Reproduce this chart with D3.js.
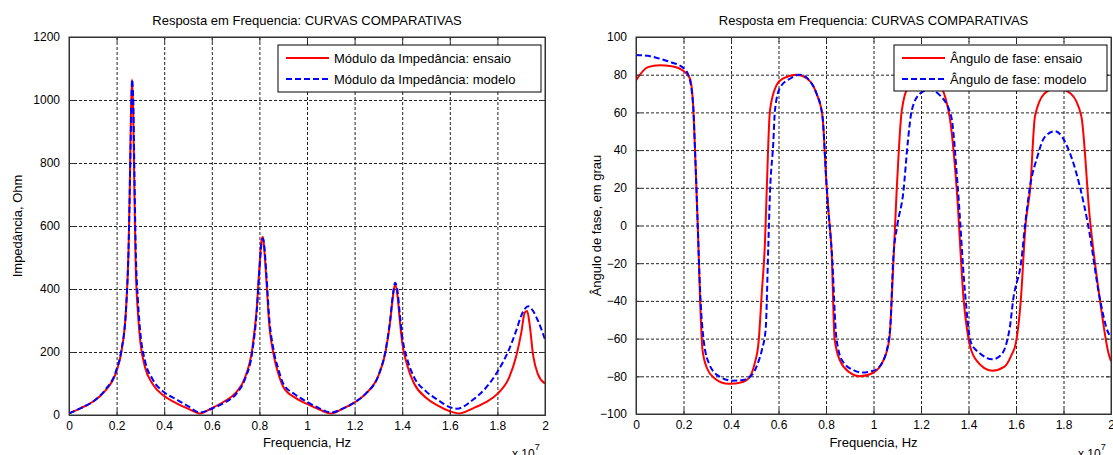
<!DOCTYPE html>
<html>
<head>
    <title>Resposta em Frequencia</title>
    <script src="https://cdnjs.cloudflare.com/ajax/libs/d3/7.8.5/d3.min.js"></script>
    <style>
        body { margin: 0; background: #fff; }
        text { font-family: Arial, "Liberation Sans", sans-serif; fill: #000; }
        .grid line { stroke: #222; stroke-dasharray: 3,2; stroke-width: 1px; }
        .grid path { display: none; }
        .axis path, .axis line { stroke: #333; }
        .axis text { font-size: 12px; }
    </style>
</head>
<body>
<svg id="chart"></svg>

<script>
    // frequencies in units of 10^7 Hz
    const impFreqEnsaio = [0, 0.05, 0.1, 0.15, 0.2, 0.22, 0.24, 0.25, 0.255, 0.26, 0.265, 0.27, 0.275, 0.28, 0.29, 0.3, 0.32, 0.35, 0.4, 0.45, 0.5, 0.55,
        0.6, 0.65, 0.7, 0.74, 0.77, 0.79, 0.8, 0.81, 0.815, 0.82, 0.83, 0.84, 0.86, 0.88, 0.9, 0.95, 1.0, 1.05, 1.1,
        1.15, 1.2, 1.25, 1.3, 1.33, 1.35, 1.36, 1.37, 1.38, 1.39, 1.4, 1.42, 1.45, 1.5, 1.55, 1.6, 1.64,
        1.7, 1.75, 1.8, 1.85, 1.88, 1.9, 1.915, 1.925, 1.935, 1.95, 1.97, 2.0];
    const impEnsaio = [5, 22, 42, 75, 140, 200, 340, 520, 700, 950, 1065, 950, 700, 480, 320, 230, 150, 100, 60, 38, 20, 5,
        22, 42, 70, 120, 210, 350, 470, 560, 565, 530, 420, 300, 190, 130, 90, 55, 35, 18, 5,
        20, 40, 70, 125, 200, 300, 370, 415, 380, 300, 230, 160, 100, 55, 30, 12, 5,
        22, 40, 67, 120, 190, 260, 325, 330, 290, 190, 130, 100];

    const impFreqModelo = [0, 0.05, 0.1, 0.15, 0.2, 0.22, 0.24, 0.25, 0.26, 0.265, 0.27, 0.275, 0.28, 0.29, 0.3, 0.32, 0.35, 0.4, 0.45, 0.5, 0.55,
        0.6, 0.65, 0.7, 0.74, 0.77, 0.79, 0.8, 0.81, 0.815, 0.82, 0.83, 0.84, 0.86, 0.88, 0.9, 0.95, 1.0, 1.05, 1.1,
        1.15, 1.2, 1.25, 1.3, 1.33, 1.35, 1.36, 1.37, 1.38, 1.39, 1.4, 1.42, 1.45, 1.5, 1.55, 1.6, 1.63,
        1.7, 1.75, 1.8, 1.85, 1.88, 1.9, 1.93, 1.95, 1.97, 2.0];
    const impModelo = [5, 22, 42, 78, 145, 205, 340, 520, 900, 1065, 1000, 760, 540, 360, 260, 170, 115, 72, 50, 28, 8,
        20, 38, 65, 115, 200, 340, 460, 550, 560, 540, 440, 320, 205, 145, 100, 65, 42, 22, 8,
        20, 40, 70, 125, 205, 305, 375, 420, 395, 320, 250, 180, 120, 75, 48, 25, 20,
        50, 85, 137, 210, 270, 315, 345, 330, 300, 240];

    const phFreqEnsaio = [0, 0.05, 0.1, 0.15, 0.2, 0.227, 0.24, 0.25, 0.26, 0.27, 0.28, 0.3, 0.33, 0.39, 0.45, 0.48, 0.5, 0.516, 0.53, 0.543,
        0.55, 0.564, 0.592, 0.62, 0.677, 0.72, 0.76, 0.785, 0.803, 0.81, 0.824, 0.836, 0.86, 0.9, 0.94, 1.0, 1.04, 1.067,
        1.08, 1.097, 1.119, 1.147, 1.19, 1.23, 1.27, 1.32, 1.35, 1.38, 1.4, 1.43, 1.5, 1.55, 1.58, 1.6, 1.62, 1.64,
        1.66, 1.68, 1.72, 1.77, 1.83, 1.875, 1.91, 1.954, 1.99, 2.0];
    const phEnsaio = [77, 84, 85, 84.5, 82, 78, 65, 35, 0, -40, -66, -76, -81, -84, -83, -80, -73, -62, -35, -9,
        17, 61, 74.5, 78, 80, 78, 70, 58, 20, 8, -15, -60, -72, -78, -80, -78, -72, -60,
        -30, 17, 61, 73.6, 77, 78, 76, 58, 20, -40, -60, -71, -77, -75, -69, -62, -40, 0,
        20, 58, 70, 73, 70, 58, 5, -40, -68, -72];

    const phFreqModelo = [0, 0.05, 0.1, 0.15, 0.2, 0.22, 0.24, 0.25, 0.26, 0.27, 0.286, 0.31, 0.35, 0.405, 0.45, 0.49, 0.51, 0.53, 0.546, 0.557,
        0.564, 0.578, 0.585, 0.606, 0.65, 0.69, 0.73, 0.76, 0.785, 0.803, 0.81, 0.825, 0.844, 0.87, 0.92, 0.95, 1.0, 1.04, 1.07,
        1.083, 1.1, 1.125, 1.145, 1.161, 1.196, 1.235, 1.28, 1.327, 1.355, 1.385, 1.41, 1.45, 1.5, 1.535, 1.574, 1.588, 1.623, 1.638,
        1.659, 1.69, 1.72, 1.764, 1.827, 1.869, 1.904, 1.954, 1.989, 2.0];
    const phModelo = [90.5, 90, 88.5, 86.5, 83.5, 80, 65, 35, 0, -35, -62, -74, -80, -82.3, -82, -79, -74, -66, -55, -11,
        17, 43.7, 61, 73, 78, 80, 77, 70, 58, 20, 8, -15, -60, -72, -77, -78, -77, -72, -55,
        -18, 0, 17, 45, 61, 70, 72, 69, 58, 20, -35, -62, -68, -71, -69, -54, -39.5, -18, 0,
        20.6, 36.5, 46.8, 50, 38.4, 20.6, 0, -39.5, -57, -59];

    const xTicks = [0, 0.2, 0.4, 0.6, 0.8, 1, 1.2, 1.4, 1.6, 1.8, 2];
    const impTicks = [0, 200, 400, 600, 800, 1000, 1200];
    const phTicks = [-100, -80, -60, -40, -20, 0, 20, 40, 60, 80, 100];

    const width = 1113;
    const height = 455;
    const svg = d3.select("#chart").attr("width", width).attr("height", height);

    const panels = [
        {
            id: "imp", left: 69, right: 545, top: 37, bottom: 415,
            yDomain: [0, 1200], yTicks: impTicks, yLabel: "Impedância, Ohm", yLabelX: 22,
            ensaio: impFreqEnsaio.map((f, i) => [f, impEnsaio[i]]),
            modelo: impFreqModelo.map((f, i) => [f, impModelo[i]]),
            legend: { x: 278, y: 45, w: 263, h: 47, names: ["Módulo da Impedância: ensaio", "Módulo da Impedância: modelo"] }
        },
        {
            id: "ph", left: 636, right: 1111, top: 37, bottom: 414,
            yDomain: [-100, 100], yTicks: phTicks, yLabel: "Ângulo de fase, em grau", yLabelX: 601,
            ensaio: phFreqEnsaio.map((f, i) => [f, phEnsaio[i]]),
            modelo: phFreqModelo.map((f, i) => [f, phModelo[i]]),
            legend: { x: 894, y: 45, w: 213, h: 46, names: ["Ângulo de fase: ensaio", "Ângulo de fase: modelo"] }
        }
    ];

    panels.forEach(p => drawPanel(p));

    function drawPanel(p) {
        const w = p.right - p.left;
        const h = p.bottom - p.top;
        const x = d3.scaleLinear().domain([0, 2]).range([p.left, p.right]);
        const y = d3.scaleLinear().domain(p.yDomain).range([p.bottom, p.top]);
        const fmt = d => String(+d.toFixed(1));

        // grid
        svg.append("g").attr("class", "grid")
            .attr("transform", `translate(0,${p.bottom})`)
            .call(d3.axisBottom(x).tickValues(xTicks).tickSize(-h).tickFormat(""));
        svg.append("g").attr("class", "grid")
            .attr("transform", `translate(${p.left},0)`)
            .call(d3.axisLeft(y).tickValues(p.yTicks).tickSize(-w).tickFormat(""));

        // curves
        svg.append("clipPath").attr("id", "clip-" + p.id)
            .append("rect").attr("x", p.left).attr("y", p.top).attr("width", w).attr("height", h);

        const line = d3.line()
            .x(d => x(d[0]))
            .y(d => y(d[1]))
            .curve(d3.curveMonotoneX);

        const curves = svg.append("g").attr("clip-path", `url(#clip-${p.id})`);
        curves.append("path").datum(p.ensaio)
            .attr("d", line)
            .attr("fill", "none")
            .attr("stroke", "#ff0000")
            .attr("stroke-width", 2);
        curves.append("path").datum(p.modelo)
            .attr("d", line)
            .attr("fill", "none")
            .attr("stroke", "#0000ff")
            .attr("stroke-width", 2)
            .attr("stroke-dasharray", "6,3");

        // axes with inward ticks
        const bottomAxis = svg.append("g").attr("class", "axis")
            .attr("transform", `translate(0,${p.bottom})`)
            .call(d3.axisBottom(x).tickValues(xTicks).tickSize(-5).tickPadding(6).tickFormat(fmt));
        bottomAxis.selectAll("text").attr("dy", "0.71em");
        svg.append("g").attr("class", "axis")
            .attr("transform", `translate(0,${p.top})`)
            .call(d3.axisTop(x).tickValues(xTicks).tickSize(-5).tickFormat(""));
        svg.append("g").attr("class", "axis")
            .attr("transform", `translate(${p.left},0)`)
            .call(d3.axisLeft(y).tickValues(p.yTicks).tickSize(-5).tickPadding(9).tickFormat(d3.format("d")));
        svg.append("g").attr("class", "axis")
            .attr("transform", `translate(${p.right},0)`)
            .call(d3.axisRight(y).tickValues(p.yTicks).tickSize(-5).tickFormat(""));

        svg.append("rect")
            .attr("x", p.left).attr("y", p.top).attr("width", w).attr("height", h)
            .attr("fill", "none").attr("stroke", "#333");

        // texts
        svg.append("text")
            .attr("x", (p.left + p.right) / 2).attr("y", 25)
            .attr("text-anchor", "middle").attr("font-size", 13)
            .text("Resposta em Frequencia: CURVAS COMPARATIVAS");

        svg.append("text")
            .attr("x", (p.left + p.right) / 2).attr("y", 447)
            .attr("text-anchor", "middle").attr("font-size", 13)
            .text("Frequencia, Hz");

        svg.append("text")
            .attr("transform", `translate(${p.yLabelX},${(p.top + p.bottom) / 2}) rotate(-90)`)
            .attr("text-anchor", "middle").attr("font-size", 13)
            .text(p.yLabel);

        const exp = svg.append("text")
            .attr("x", p.right - 33).attr("y", 458).attr("font-size", 12);
        exp.append("tspan").text("x 10");
        exp.append("tspan").attr("dy", -8).attr("font-size", 9).text("7");

        // legend
        const lg = p.legend;
        const leg = svg.append("g");
        leg.append("rect")
            .attr("x", lg.x).attr("y", lg.y).attr("width", lg.w).attr("height", lg.h)
            .attr("fill", "#fff").attr("stroke", "#000");
        const rows = [
            { color: "#ff0000", dash: null },
            { color: "#0000ff", dash: "6,3" }
        ];
        rows.forEach((r, i) => {
            const ly = lg.y + 13 + i * 21;
            leg.append("line")
                .attr("x1", lg.x + 8).attr("x2", lg.x + 51)
                .attr("y1", ly).attr("y2", ly)
                .attr("stroke", r.color).attr("stroke-width", 2)
                .attr("stroke-dasharray", r.dash);
            leg.append("text")
                .attr("x", lg.x + 56).attr("y", ly).attr("dy", "0.35em")
                .attr("font-size", 13)
                .text(lg.names[i]);
        });
    }
</script>
</body>
</html>
